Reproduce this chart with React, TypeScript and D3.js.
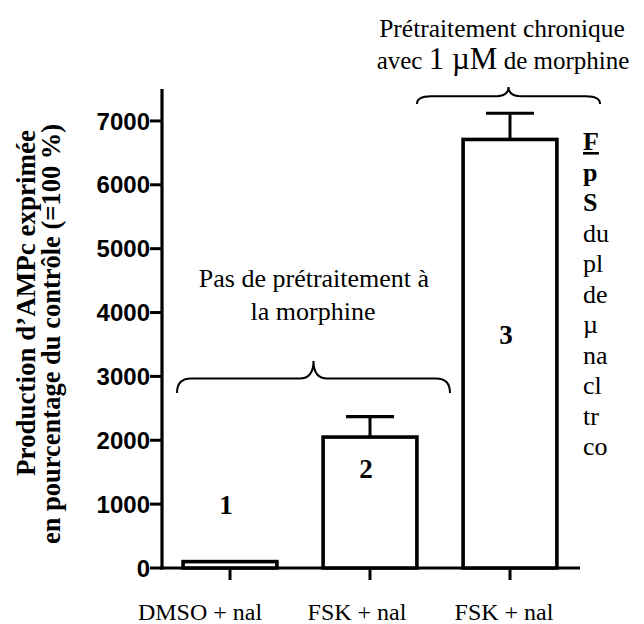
import React from "react";
import * as d3 from "d3";

const categories = ["DMSO + nal", "FSK + nal (2)", "FSK + nal (3)"];
const xLabels = ["DMSO + nal", "FSK + nal", "FSK + nal"];
const barNumbers = ["1", "2", "3"];
const means = [100, 2050, 6710];
const errors = [0, 320, 410];
const yTicks = [0, 1000, 2000, 3000, 4000, 5000, 6000, 7000];
const captionLines = [
  { text: "F", bold: true, underline: true },
  { text: "p", bold: true, underline: false },
  { text: "S", bold: true, underline: false },
  { text: "du", bold: false, underline: false },
  { text: "pl", bold: false, underline: false },
  { text: "de", bold: false, underline: false },
  { text: "µ", bold: false, underline: false },
  { text: "na", bold: false, underline: false },
  { text: "cl", bold: false, underline: false },
  { text: "tr", bold: false, underline: false },
  { text: "co", bold: false, underline: false },
];

// layout constants (not data)
const labelOffsets = [-30, -13, -6];
const numberY = [514, 478, 344];

const W = 644;
const H = 624;
const SERIF = "'Liberation Serif', 'Times New Roman', serif";
const SANS = "'Liberation Sans', Arial, sans-serif";

function bracePath(x1: number, x2: number, yTip: number, yEnd: number): string {
  const cx = (x1 + x2) / 2;
  const arm = yTip + (yEnd - yTip) * 0.55;
  const r = 14;
  return [
    `M ${x1} ${yEnd}`,
    `Q ${x1} ${arm} ${x1 + r} ${arm}`,
    `L ${cx - r} ${arm}`,
    `Q ${cx} ${arm} ${cx} ${yTip}`,
    `Q ${cx} ${arm} ${cx + r} ${arm}`,
    `L ${x2 - r} ${arm}`,
    `Q ${x2} ${arm} ${x2} ${yEnd}`,
  ].join(" ");
}

export default function App() {
  const x = d3
    .scaleBand<string>()
    .domain(categories)
    .range([160, 580])
    .paddingInner(0.33)
    .paddingOuter(0.165);
  const y = d3.scaleLinear().domain([0, 7500]).range([568, 89]);
  const bw = x.bandwidth();
  const axisX = 162;
  const capHalf = 24;

  return (
    <svg width={W} height={H} style={{ display: "block", position: "absolute", left: 0, top: 0 }}>
      <rect x={0} y={0} width={W} height={H} fill="#fff" />

      {/* Y axis title */}
      <g transform={`translate(35, 303) rotate(-90)`}>
        <text textAnchor="middle" fontFamily={SERIF} fontWeight="bold" fontSize={27} fill="#000">
          Production d’AMPc exprimée
        </text>
      </g>
      <g transform={`translate(60, 334) rotate(-90)`}>
        <text textAnchor="middle" fontFamily={SERIF} fontWeight="bold" fontSize={26.5} fill="#000">
          en pourcentage du contrôle (=100 %)
        </text>
      </g>

      {/* Y axis */}
      <line x1={axisX} x2={axisX} y1={y(7500)} y2={y(0) + 1.5} stroke="#000" strokeWidth={3.2} />
      {yTicks.map((t) => (
        <g key={t}>
          <line x1={axisX - 12} x2={axisX} y1={y(t)} y2={y(t)} stroke="#000" strokeWidth={3} />
          <text
            x={axisX - 12}
            y={y(t)}
            dy="0.36em"
            textAnchor="end"
            fontFamily={SANS}
            fontWeight="bold"
            fontSize={24}
            fill="#000"
          >
            {t}
          </text>
        </g>
      ))}

      {/* X axis */}
      <line x1={axisX - 1.6} x2={580} y1={y(0)} y2={y(0)} stroke="#000" strokeWidth={3.2} />
      {categories.map((c, i) => {
        const cx = (x(c) as number) + bw / 2;
        return (
          <g key={c}>
            <line x1={cx} x2={cx} y1={y(0)} y2={y(0) + 12} stroke="#000" strokeWidth={3} />
            <text
              x={cx + labelOffsets[i]}
              y={620}
              textAnchor="middle"
              fontFamily={SERIF}
              fontSize={24}
              fill="#000"
            >
              {xLabels[i]}
            </text>
          </g>
        );
      })}

      {/* Bars with error bars */}
      {categories.map((c, i) => {
        const bx = x(c) as number;
        const cx = bx + bw / 2;
        const top = y(means[i]);
        return (
          <g key={"bar" + c}>
            {errors[i] > 0 && (
              <g>
                <line x1={cx} x2={cx} y1={top} y2={y(means[i] + errors[i])} stroke="#000" strokeWidth={3} />
                <line
                  x1={cx - capHalf}
                  x2={cx + capHalf}
                  y1={y(means[i] + errors[i])}
                  y2={y(means[i] + errors[i])}
                  stroke="#000"
                  strokeWidth={3.2}
                />
              </g>
            )}
            <rect
              x={bx}
              y={top}
              width={bw}
              height={y(0) - top}
              fill="#fff"
              stroke="#000"
              strokeWidth={3.6}
            />
          </g>
        );
      })}

      {/* Bar numbers */}
      {categories.map((c, i) => {
        const cx = (x(c) as number) + bw / 2;
        return (
          <text
            key={"n" + c}
            x={cx - 4}
            y={numberY[i]}
            textAnchor="middle"
            fontFamily={SERIF}
            fontWeight="bold"
            fontSize={27}
            fill="#000"
          >
            {barNumbers[i]}
          </text>
        );
      })}

      {/* Lower brace */}
      <path d={bracePath(177, 450, 361, 393)} fill="none" stroke="#000" strokeWidth={2} />
      <text x={314} y={287} textAnchor="middle" fontFamily={SERIF} fontSize={26} fill="#000">
        Pas de prétraitement à
      </text>
      <text x={313} y={320} textAnchor="middle" fontFamily={SERIF} fontSize={26} fill="#000">
        la morphine
      </text>

      {/* Upper brace */}
      <path d={bracePath(417, 600, 87, 104)} fill="none" stroke="#000" strokeWidth={2} />
      <text x={502} y={37} textAnchor="middle" fontFamily={SERIF} fontSize={25.5} fill="#000">
        Prétraitement chronique
      </text>
      <text x={503} y={69} textAnchor="middle" fontFamily={SERIF} fontSize={25} fill="#000">
        avec <tspan fontSize={31}>1 µM</tspan> de morphine
      </text>

      {/* Visible fragment of the caption on the right */}
      {captionLines.map((l, i) => (
        <text
          key={"cap" + i}
          x={583}
          y={150 + i * 30.5}
          fontFamily={SERIF}
          fontWeight={l.bold ? "bold" : "normal"}
          textDecoration={l.underline ? "underline" : "none"}
          fontSize={26}
          fill="#000"
        >
          {l.text}
        </text>
      ))}
    </svg>
  );
}
